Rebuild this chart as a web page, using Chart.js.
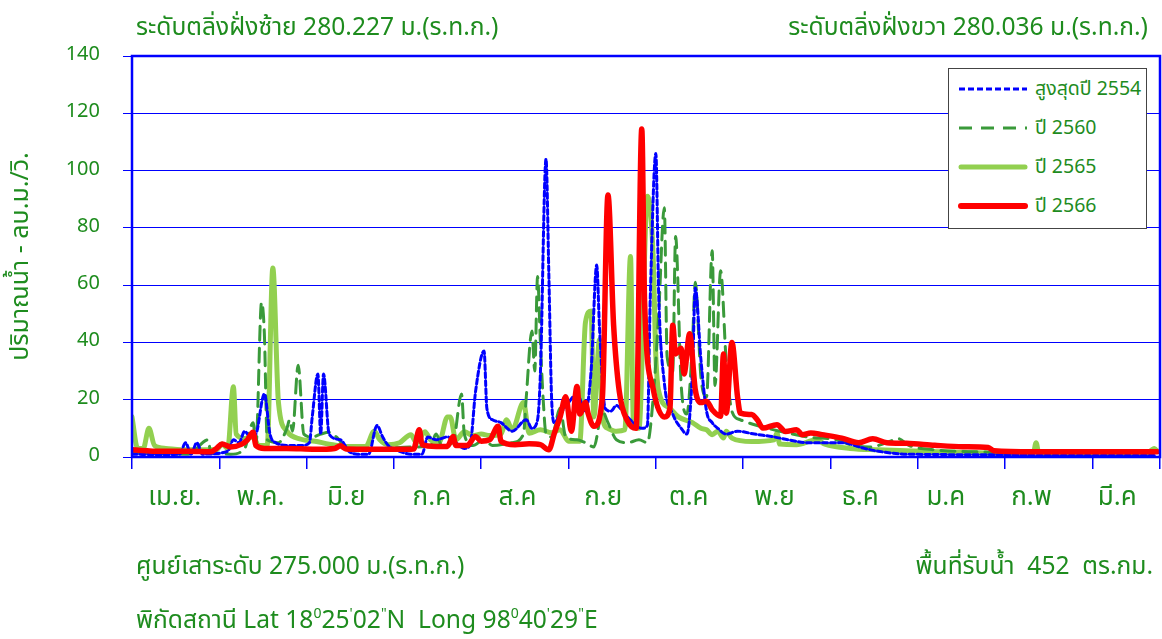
<!DOCTYPE html>
<html>
<head>
<meta charset="utf-8">
<script src="https://cdn.jsdelivr.net/npm/chart.js@4"></script>
<style>
    body { margin: 0; background: #fff; }
    #wrap { position: relative; width: 1162px; height: 639px; }
    .txt { position: absolute; color: #1E8C1E; font-family: Tahoma, 'Noto Sans Thai', 'Noto Sans', sans-serif; font-size: 24.6px; line-height: 28px; white-space: pre; }
    .txt sup { font-size: 14px; vertical-align: 10px; line-height: 0; }
    #legend { position: absolute; left: 948px; top: 68px; width: 197px; height: 159px; border: 1px solid #444; background: #fff; }
    #legend .row { position: absolute; left: 8px; height: 30px; }
    #legend svg { position: absolute; left: 0; top: 0; }
    #legend span { position: absolute; left: 78px; top: 0; color: #1E8C1E; font-family: Tahoma, 'Noto Sans Thai', 'Noto Sans', sans-serif; font-size: 19.5px; line-height: 30px; white-space: nowrap; }
</style>
</head>
<body>
<div id="wrap">
    <canvas id="flowChart" width="1162" height="639"></canvas>
    <div class="txt" style="left:136px; top:14px;">ระดับตลิ่งฝั่งซ้าย 280.227 ม.(ร.ท.ก.)</div>
    <div class="txt" style="right:14px; top:14px;">ระดับตลิ่งฝั่งขวา 280.036 ม.(ร.ท.ก.)</div>
    <div class="txt" style="left:136px; top:553px;">ศูนย์เสาระดับ 275.000 ม.(ร.ท.ก.)</div>
    <div class="txt" style="right:9px; top:553px;">พื้นที่รับน้ำ  452  ตร.กม.</div>
    <div class="txt" style="left:136px; top:607px;">พิกัดสถานี Lat 18<sup>0</sup>25<sup>'</sup>02<sup>"</sup>N  Long 98<sup>0</sup>40<sup>'</sup>29<sup>"</sup>E</div>
    <div id="legend">
        <div class="row" style="top:5px;">
            <svg width="72" height="30"><line x1="2" y1="15" x2="70" y2="15" stroke="#0000FF" stroke-width="3" stroke-dasharray="6,3"/></svg>
            <span>สูงสุดปี 2554</span>
        </div>
        <div class="row" style="top:44px;">
            <svg width="72" height="30"><line x1="2" y1="15" x2="70" y2="15" stroke="#3A9A3A" stroke-width="3" stroke-dasharray="13,9"/></svg>
            <span>ปี 2560</span>
        </div>
        <div class="row" style="top:83px;">
            <svg width="72" height="30"><line x1="4" y1="15" x2="68" y2="15" stroke="#92D050" stroke-width="5" stroke-linecap="round"/></svg>
            <span>ปี 2565</span>
        </div>
        <div class="row" style="top:122px;">
            <svg width="72" height="30"><line x1="4" y1="15" x2="68" y2="15" stroke="#FF0000" stroke-width="6" stroke-linecap="round"/></svg>
            <span>ปี 2566</span>
        </div>
    </div>
</div>
<script>
// tháng hiển thị dưới trục x
var monthLabels = ['เม.ย.', 'พ.ค.', 'มิ.ย', 'ก.ค', 'ส.ค', 'ก.ย', 'ต.ค', 'พ.ย', 'ธ.ค', 'ม.ค', 'ก.พ', 'มี.ค'];

// สูงสุดปี 2554 (day index from 1 Apr, flow)
var days2554 = [0, 10, 17, 19, 21, 23, 25, 34, 36, 38, 40, 42, 44, 47, 49, 51, 56, 60, 63, 64, 66, 67, 68, 70, 74, 77, 80, 84, 87, 89, 91, 95, 99, 103, 105, 108, 112, 115, 118, 120, 122, 125, 126, 128, 131, 135, 140, 142, 144, 145, 147, 148, 149, 150, 152, 155, 158, 161, 163, 165, 166, 168, 170, 172, 175, 178, 181, 183, 184, 186, 187, 189, 192, 195, 197, 199, 200, 202, 204, 206, 208, 211, 215, 221, 228, 233, 240, 252, 260, 265, 275, 300, 330, 364];
var flow2554 = [1, 0.8, 1, 5, 1, 5, 1, 2, 6, 5, 9, 7, 8, 22, 8, 5, 4, 4, 5, 14, 29, 8, 29, 8, 6, 2, 1, 1, 11, 7, 4, 2, 1, 1, 7, 6, 7, 5, 3, 4, 23, 37, 17, 13, 12, 9, 13, 10, 13, 29, 104, 64, 20, 12, 15, 19, 22, 16, 30, 67, 45, 17, 16, 18, 15, 12, 10, 11, 55, 106, 57, 26, 15, 10, 8, 30, 59, 34, 16, 12, 10, 8, 9, 8, 7, 6, 5, 5, 3, 2, 1, 0.8, 0.5, 0.5];

// ปี 2560
var days2560 = [0, 10, 20, 27, 28, 35, 40, 43, 44, 46, 47, 48, 52, 55, 56, 57, 59, 61, 64, 67, 70, 73, 76, 80, 90, 100, 106, 108, 110, 114, 117, 118, 121, 125, 128, 135, 139, 140, 142, 143, 144, 145, 146, 147, 149, 152, 154, 158, 161, 164, 167, 169, 172, 176, 180, 183, 185, 187, 189, 190, 192, 193, 195, 197, 199, 200, 202, 204, 206, 207, 209, 211, 213, 216, 222, 230, 240, 250, 256, 262, 268, 272, 276, 285, 300, 330, 364];
var flow2560 = [1.5, 1.2, 1, 6, 1.5, 1, 3, 12, 4, 54, 43, 6, 5, 10, 13, 9, 32, 8, 7, 8, 8.6, 6.6, 3, 2.5, 3, 3.5, 4, 8, 4, 5, 22, 8, 4, 6, 4, 5, 8, 21, 44, 30, 63, 40, 20, 8, 7, 17, 7, 6, 5, 3.5, 16, 12, 6, 5, 6, 5, 20, 50, 87, 35, 30, 77, 25, 15, 40, 61, 28, 21, 72, 25, 65, 33, 16, 13, 11, 9, 7, 6, 4, 3.5, 5, 6.4, 4, 2.5, 1.8, 1.5, 1.5];

// ปี 2565
var days2565 = [0, 2, 4, 6, 8, 12, 20, 30, 32, 34, 36, 37, 40, 43, 45, 48, 50, 52, 55, 60, 65, 70, 76, 83, 86, 88, 91, 95, 99, 101, 104, 106, 109, 112, 113, 115, 118, 121, 124, 127, 131, 133, 135, 139, 141, 145, 149, 152, 155, 159, 161, 163, 164, 166, 167, 169, 172, 175, 177, 178, 180, 183, 185, 186, 187, 191, 194, 199, 202, 204, 206, 208, 210, 211, 213, 220, 228, 229, 230, 236, 243, 246, 255, 265, 280, 300, 315, 320, 321, 322, 340, 360, 363, 364];
var flow2565 = [14, 3, 3, 10, 4, 3, 2.5, 2.5, 4.5, 3, 24.5, 8, 6.5, 7, 4, 4, 66, 19, 9, 6.2, 5.5, 4.5, 3.7, 3.7, 9, 6, 4.3, 5, 7.8, 5, 8.8, 6, 5, 14, 14, 6, 8.8, 7.5, 8, 7.5, 8, 13, 9.5, 19, 8.3, 9.5, 8.5, 9.5, 5.5, 5.5, 47, 51, 14, 41, 14, 10, 9, 9.5, 70, 12, 10, 91, 71, 35, 23, 17, 14, 12, 10, 9.5, 7.8, 9, 6.6, 9, 6.6, 5.4, 6, 8.4, 4.5, 4.3, 6, 4.5, 3, 2.5, 2, 1.5, 1, 1.2, 5, 1.2, 1, 1, 3, 2];

// ปี 2566
var days2566 = [0, 10, 20, 28, 30, 32, 35, 39, 41, 43, 44, 47, 55, 65, 72, 74, 76, 85, 95, 100, 102, 103, 108, 112, 114, 115, 119, 122, 124, 127, 130, 131, 136, 141, 145, 148, 150, 152, 154, 156, 158, 159, 161, 162, 164, 167, 169, 171, 173, 176, 179, 181, 182, 185, 189, 191, 192, 193, 195, 196, 198, 200, 202, 204, 206, 209, 210, 211, 213, 215, 216, 220, 222, 224, 229, 232, 236, 238, 241, 245, 252, 258, 263, 268, 275, 285, 295, 304, 306, 320, 340, 364];
var flow2566 = [2.5, 2, 2, 1.8, 3, 4.5, 3.5, 4.5, 6, 8.6, 4, 3, 3, 2.7, 3, 3.9, 2.8, 2.7, 2.7, 2.8, 9.5, 4.3, 3.7, 3.7, 7.2, 4, 4, 7.2, 5.5, 6, 10.7, 5.5, 4.3, 4.6, 4.3, 2.5, 8.4, 14, 21, 9, 24.6, 15, 19, 15, 10.7, 20.6, 91.5, 46, 23, 12.4, 10, 114.5, 54, 24, 14, 17, 46, 36, 38, 29, 43, 23.5, 19, 19.5, 16.5, 14.2, 36, 15.3, 40, 21, 15.3, 14.8, 13, 10.1, 11.3, 8.9, 9.5, 7.8, 8.4, 7.8, 6.6, 5, 6.4, 5, 4.8, 4.1, 3.6, 3.3, 2.2, 1.8, 1.8, 1.8];

var yTicks = [0, 20, 40, 60, 80, 100, 120, 140];

var GREEN_TXT = '#1E8C1E';
var FONT = "Tahoma, 'Noto Sans Thai', 'Noto Sans', sans-serif";

function toPoints(days, flows) {
    var pts = [];
    for (var i = 0; i < days.length; i++) {
        pts.push({ x: days[i], y: flows[i] });
    }
    return pts;
}

// khung viền xanh quanh vùng vẽ
var frameBorder = {
    id: 'frameBorder',
    afterDatasetsDraw: function (chart) {
        var a = chart.chartArea;
        var ctx = chart.ctx;
        ctx.save();
        ctx.strokeStyle = '#0000FF';
        ctx.lineWidth = 2.5;
        ctx.strokeRect(a.left, a.top, a.right - a.left, a.bottom - a.top);
        ctx.restore();
    }
};

// bỏ padding trái/phải mà Chart.js tự thêm cho nhãn trục x
function fixXPadding(scale, h) {
    scale.height = h;
    scale.paddingLeft = 0;
    scale.paddingRight = 0;
}

var ctx = document.getElementById('flowChart');
var flowChart = new Chart(ctx, {
    type: 'line',
    data: {
        datasets: [
            {
                label: 'สูงสุดปี 2554',
                data: toPoints(days2554, flow2554),
                borderColor: '#0000FF',
                borderWidth: 3,
                borderDash: [5, 3],
                order: 1
            },
            {
                label: 'ปี 2560',
                data: toPoints(days2560, flow2560),
                borderColor: '#3A9A3A',
                borderWidth: 3,
                borderDash: [14, 8],
                order: 2
            },
            {
                label: 'ปี 2565',
                data: toPoints(days2565, flow2565),
                borderColor: '#92D050',
                borderWidth: 5,
                order: 3
            },
            {
                label: 'ปี 2566',
                data: toPoints(days2566, flow2566),
                borderColor: '#FF0000',
                borderWidth: 5.5,
                order: 0
            }
        ]
    },
    options: {
        responsive: false,
        animation: false,
        layout: { padding: { left: 0, right: 2, top: 56, bottom: 110 } },
        elements: {
            point: { radius: 0 },
            line: { cubicInterpolationMode: 'monotone', borderJoinStyle: 'round', borderCapStyle: 'round', fill: false }
        },
        plugins: {
            legend: { display: false },
            tooltip: { enabled: false }
        },
        scales: {
            x: {
                type: 'linear',
                position: 'bottom',
                min: 0,
                max: 365,
                weight: 0,
                ticks: { stepSize: 31, display: false },
                grid: { drawOnChartArea: false, tickLength: 12, tickColor: '#0000FF', lineWidth: 1.5 },
                border: { display: false },
                afterFit: function (scale) { fixXPadding(scale, 12); }
            },
            xm: {
                type: 'category',
                position: 'bottom',
                labels: monthLabels,
                offset: true,
                weight: 1,
                grid: { display: false, drawTicks: false },
                border: { display: false },
                ticks: { color: GREEN_TXT, font: { family: FONT, size: 26 }, padding: 15, maxRotation: 0, autoSkip: false },
                afterFit: function (scale) { fixXPadding(scale, 60); }
            },
            y: {
                min: 0,
                max: 140,
                afterBuildTicks: function (scale) {
                    scale.ticks = yTicks.map(function (v) { return { value: v }; });
                },
                ticks: { color: GREEN_TXT, font: { family: FONT, size: 20 }, padding: 23 },
                grid: { color: '#0000FF', lineWidth: 1, borderDash: [1, 1], tickLength: 9, tickColor: '#0000FF', tickBorderDash: [] },
                border: { display: false },
                title: {
                    display: true,
                    text: 'ปริมาณน้ำ - ลบ.ม./วิ.',
                    color: GREEN_TXT,
                    font: { family: FONT, size: 25 },
                    padding: { top: 8, bottom: 0 }
                },
                afterFit: function (scale) { scale.width = 132; }
            }
        }
    },
    plugins: [frameBorder]
});
</script>
</body>
</html>
